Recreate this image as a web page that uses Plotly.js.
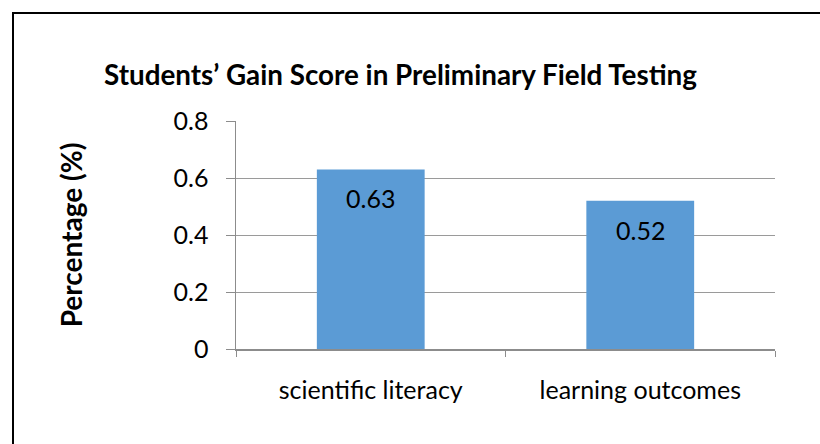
<!DOCTYPE html>
<html>
<head>
<meta charset="utf-8">
<script src="https://cdn.plot.ly/plotly-3.0.1.min.js"></script>
<style>
  html, body { margin: 0; padding: 0; background: #fff; }
  #wrap { position: relative; width: 820px; height: 444px; overflow: hidden; }
  #chart { position: absolute; left: 0; top: 0; width: 820px; height: 444px; }
  #frame { position: absolute; left: 12px; top: 12px; width: 900px; height: 500px;
           border-left: 2px solid #000; border-top: 2px solid #000; pointer-events: none; }
</style>
</head>
<body>
<div id="wrap">
  <div id="chart"></div>
  <div id="frame"></div>
</div>
<script>
const categories = ["scientific literacy", "learning outcomes"];
const gainScores = [0.63, 0.52];
const valueLabels = ["0.63", "0.52"];
const yTickValues = [0, 0.2, 0.4, 0.6, 0.8];
const yTickLabels = ["0", "0.2", "0.4", "0.6", "0.8"];

const FONT = "Lato, Calibri, Carlito, 'Open Sans', sans-serif";

const trace = {
  type: "bar",
  x: categories,
  y: gainScores,
  marker: { color: "#5B9BD5", line: { width: 0 } },
  hoverinfo: "none"
};

const annotations = categories.map((c, i) => ({
  x: c, y: gainScores[i], xref: "x", yref: "y",
  text: valueLabels[i], showarrow: false,
  yanchor: "middle", yshift: -29,
  font: { family: FONT, size: 25, color: "#000" }
}));

const layout = {
  width: 820, height: 444,
  margin: { l: 236, r: 45, t: 121, b: 94.5, pad: 0 },
  paper_bgcolor: "#fff", plot_bgcolor: "#fff",
  showlegend: false,
  bargap: 0.6,
  font: { family: FONT, size: 24, color: "#000" },
  title: {
    text: "<b>Students’ Gain Score in Preliminary Field Testing</b>",
    x: 104 / 820, xref: "container", xanchor: "left",
    y: 1 - 75 / 444, yref: "container", yanchor: "middle",
    font: { family: FONT, size: 27.8, color: "#000" }
  },
  xaxis: {
    type: "category",
    showgrid: false,
    showline: true, linecolor: "#8c8c8c", linewidth: 1.5,
    ticks: "outside", tickson: "boundaries", ticklen: 6, tickcolor: "#8c8c8c", tickwidth: 1,
    tickfont: { family: FONT, size: 25, color: "#000" },
    ticklabelstandoff: 18,
    fixedrange: true
  },
  yaxis: {
    range: [0, 0.8],
    tickvals: yTickValues, ticktext: yTickLabels,
    showgrid: true, gridcolor: "#9a9a9a", gridwidth: 1,
    showline: true, linecolor: "#8c8c8c", linewidth: 1.5,
    zeroline: false,
    ticks: "outside", ticklen: 9, tickcolor: "#8c8c8c", tickwidth: 1,
    tickfont: { family: FONT, size: 25, color: "#000" },
    ticklabelstandoff: 12,
    title: {
      text: "<b>Percentage (%)</b>",
      font: { family: FONT, size: 28, color: "#000" },
      standoff: 83
    },
    fixedrange: true
  },
  annotations: annotations
};

Plotly.newPlot("chart", [trace], layout, { displayModeBar: false, staticPlot: true });
</script>
</body>
</html>
